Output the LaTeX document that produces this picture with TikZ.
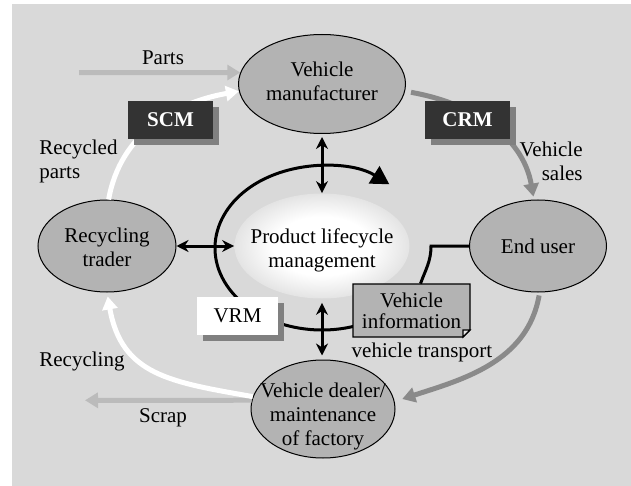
\documentclass[tikz,border=0pt]{standalone}
\usepackage{fontspec}
\setmainfont{Liberation Serif}
\usetikzlibrary{arrows.meta,shapes.geometric,shadows}
\definecolor{bggray}{HTML}{D9D9D9}
\definecolor{ellgray}{HTML}{B3B3B3}
\definecolor{lightflow}{HTML}{BBBBBB}
\definecolor{midflow}{HTML}{8A8A8A}
\definecolor{boxdark}{HTML}{333333}
\definecolor{shadowgray}{HTML}{808080}
\definecolor{plmedge}{HTML}{A6A6A6}
\definecolor{foldgray}{HTML}{E6E6E6}
\pgfdeclareradialshading{plmshade}{\pgfpoint{0bp}{0bp}}{color(0bp)=(white); color(14bp)=(white); color(50bp)=(plmedge); color(72bp)=(plmedge)}

\begin{document}
\begin{tikzpicture}[x=0.5pt, y=-0.5pt,
  every node/.style={font=\fontsize{10.5}{12}\selectfont, inner sep=0pt},
  entity/.style={ellipse, draw, line width=0.5pt, fill=ellgray, inner xsep=-25pt, inner ysep=-5pt, align=center},
  labelbox/.style={minimum width=42.5pt, minimum height=19pt, drop shadow={shadow xshift=3pt, shadow yshift=-3pt, fill=shadowgray, opacity=1}},
  flow/.style={line width=2.5pt, -{Triangle[length=6.5pt,width=7.5pt]}},
  biarrow/.style={line width=1.5pt, {Stealth[length=6pt,width=6pt]}-{Stealth[length=6pt,width=6pt]}}]
\useasboundingbox (0,0) rectangle (631,486);
\fill[bggray] (12,4) rectangle (631,486);
% Partners
\node[entity, minimum width=83.5pt, minimum height=49.5pt, text depth=3pt] (vm) at (322,84) {Vehicle\\manufacturer};
\node[entity, minimum width=69pt, minimum height=46pt, text height=21pt] (rt) at (107,246) {Recycling\\trader};
\node[entity, minimum width=68.5pt, minimum height=46pt] (eu) at (538,246) {End user};
\node[entity, minimum width=72pt, minimum height=49pt, text height=39.2pt] (dl) at (323,409) {Vehicle dealer/\\maintenance\\of factory};
\node[ellipse, shading=plmshade, inner xsep=-25pt, inner ysep=-5pt, minimum width=87.5pt, minimum height=52.5pt, text height=24.2pt, align=center] (plm) at (322,246) {Product lifecycle\\management};
% Material flows
\coordinate (partsin) at (79,72.6);
\draw[flow, lightflow] (partsin) -- (vm.172);
\draw[flow, white] (rt.88) to[out=80, in=190] (vm.185);
\draw[flow, midflow, shorten <=3pt, shorten >=1.5pt] (vm.-5) to[out=-10, in=100] (eu.95);
\draw[flow, midflow, shorten <=1.5pt, shorten >=4pt] (eu.-88) to[out=-100, in=18] (dl.6);
\coordinate (scrapout) at (85,400.3);
\draw[flow, lightflow] (dl.173) -- (scrapout);
\draw[flow, white, shorten >=2pt] (dl.170) to[out=170, in=-80, looseness=1.2] (rt.south);
% Information loop
\coordinate (plmc) at (322,248);
\draw[line width=1.5pt, -{Triangle[length=9pt,width=10pt]}] (plmc) ++(60:107 and 82) arc[start angle=60, end angle=309, x radius=107, y radius=82];
\draw[biarrow, shorten <=1.5pt] (vm.south) -- (plm.north);
\draw[biarrow, shorten <=2pt, shorten >=2pt] (plm.south) -- (plm.south |- dl.north);
\draw[biarrow] (rt.east) -- (plm.west);
% Boxes
\node[labelbox, fill=boxdark, text=white] (scm) at (170.5,120) {\bfseries SCM};
\node[labelbox, fill=boxdark, text=white] (crm) at (467.5,120) {\bfseries CRM};
\node[labelbox, fill=white, minimum width=40.5pt] (vrm) at (237.5,316) {VRM};
\coordinate (vinw) at (353,284);
\coordinate (vise) at (470,337);
\draw[line width=0.6pt, fill=ellgray] (vinw) -- (vinw -| vise) -- ([yshift=3.5pt]vise) -- ([xshift=-3.5pt]vise) -- (vinw |- vise) -- cycle;
\draw[line width=0.6pt, fill=foldgray] ([yshift=3.5pt]vise) -- ([xshift=-3.5pt, yshift=3.5pt]vise) -- ([xshift=-3.5pt]vise) -- cycle;
\node[minimum width=58.5pt, minimum height=26.5pt, align=center, font=\fontsize{10.5}{10.5}\selectfont] (vi) at (411.5,310.5) {Vehicle\\information};
\draw[line width=1.5pt] (eu.west) -- ++(-38,0) to[out=-90, in=70] ([xshift=4.5pt]vi.north);
% Labels
\node (parts) at (163,58) {Parts};
\node[anchor=west, align=left] (recparts) at (39,161) {Recycled\\parts};
\node[anchor=east, align=right] (sales) at (583,161) {Vehicle\\sales};
\node[anchor=west] (recycling) at (39,361) {Recycling};
\node (scrap) at (163,418) {Scrap};
\node (transport) at (422,352) {vehicle transport};
\end{tikzpicture}
\end{document}
